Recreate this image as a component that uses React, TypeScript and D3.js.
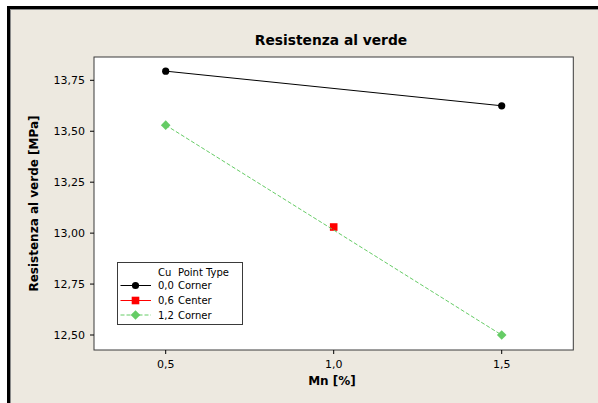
import React from "react";
import * as d3 from "d3";

// Main-effects style interaction plot: green strength vs Mn, by Cu level
const xTicks = [0.5, 1.0, 1.5];
const yTicks = [12.5, 12.75, 13.0, 13.25, 13.5, 13.75];

const cu00Mn = [0.5, 1.5];
const cu00Values = [13.795, 13.625];
const cu06Mn = [1.0];
const cu06Values = [13.03];
const cu12Mn = [0.5, 1.5];
const cu12Values = [13.53, 12.5];

const legendCu = ["0,0", "0,6", "1,2"];
const legendType = ["Corner", "Center", "Corner"];

const W = 598;
const H = 403;
const plot = { left: 94, top: 57, right: 573.3, bottom: 350 };
const FONT = "'DejaVu Sans', Verdana, sans-serif";
const BG = "#EDE9E0";

const fmt = (v: number, d: number) => v.toFixed(d).replace(".", ",");

type Series = {
  xs: number[];
  ys: number[];
  color: string;
  marker: "circle" | "square" | "diamond";
  dash?: string;
  width: number;
};

const series: Series[] = [
  { xs: cu00Mn, ys: cu00Values, color: "#000000", marker: "circle", width: 1 },
  { xs: cu06Mn, ys: cu06Values, color: "#FF0000", marker: "square", width: 1 },
  { xs: cu12Mn, ys: cu12Values, color: "#66CC66", marker: "diamond", dash: "4,2", width: 1 },
];

function Marker({ kind, cx, cy, color }: { kind: Series["marker"]; cx: number; cy: number; color: string }) {
  if (kind === "circle") return <circle cx={cx} cy={cy} r={3.6} fill={color} />;
  if (kind === "square") return <rect x={cx - 3.8} y={cy - 3.8} width={7.6} height={7.6} fill={color} />;
  const s = 4.8;
  return <path d={`M${cx},${cy - s}L${cx + s},${cy}L${cx},${cy + s}L${cx - s},${cy}Z`} fill={color} />;
}

export default function App() {
  const x = d3.scaleLinear().domain([0.2866, 1.7131]).range([plot.left, plot.right]);
  const y = d3.scaleLinear().domain([12.4264, 13.8644]).range([plot.bottom, plot.top]);
  const line = d3
    .line<[number, number]>()
    .x((d) => x(d[0]))
    .y((d) => y(d[1]));

  const legend = { x: 117, y: 262, w: 125, h: 62 };
  const rowY = [285.5, 300.5, 315];

  return (
    <svg
      width={W}
      height={H}
      style={{ position: "absolute", left: 0, top: 0, display: "block" }}
      fontFamily={FONT}
    >
      {/* window frame */}
      <rect x={0} y={0} width={W} height={H} fill="#ffffff" />
      <rect x={7} y={6} width={W} height={H} fill="#000000" />
      <rect x={10} y={9} width={W} height={H} fill="#8a8a8a" />
      <rect x={11} y={10} width={W} height={H} fill={BG} />

      {/* data region */}
      <rect
        x={plot.left}
        y={plot.top}
        width={plot.right - plot.left}
        height={plot.bottom - plot.top}
        fill="#ffffff"
        stroke="#3a3a3a"
        strokeWidth={1}
      />

      <text x={331} y={45} textAnchor="middle" fontSize={13.8} fontWeight="bold" fill="#000">
        Resistenza al verde
      </text>

      {/* y axis */}
      {yTicks.map((t) => (
        <g key={t}>
          <line x1={plot.left - 4} x2={plot.left} y1={y(t)} y2={y(t)} stroke="#000" />
          <text x={85} y={y(t) + 4} textAnchor="end" fontSize={11} fill="#000">
            {fmt(t, 2)}
          </text>
        </g>
      ))}
      <text
        transform={`translate(38,${(plot.top + plot.bottom) / 2}) rotate(-90)`}
        textAnchor="middle"
        fontSize={12}
        fontWeight="bold"
        fill="#000"
      >
        Resistenza al verde [MPa]
      </text>

      {/* x axis */}
      {xTicks.map((t) => (
        <g key={t}>
          <line x1={x(t)} x2={x(t)} y1={plot.bottom} y2={plot.bottom + 4} stroke="#000" />
          <text x={x(t)} y={368} textAnchor="middle" fontSize={11} fill="#000">
            {fmt(t, 1)}
          </text>
        </g>
      ))}
      <text x={332} y={385} textAnchor="middle" fontSize={12} fontWeight="bold" fill="#000">
        Mn [%]
      </text>

      {/* series */}
      {series.map((s, i) => {
        const pts = s.xs.map((v, j) => [v, s.ys[j]] as [number, number]);
        return (
          <g key={i}>
            {pts.length > 1 && (
              <path
                d={line(pts) || ""}
                fill="none"
                stroke={s.color}
                strokeWidth={s.width}
                strokeDasharray={s.dash}
              />
            )}
            {pts.map((p, j) => (
              <Marker key={j} kind={s.marker} cx={x(p[0])} cy={y(p[1])} color={s.color} />
            ))}
          </g>
        );
      })}

      {/* legend */}
      <rect
        x={legend.x + 0.5}
        y={legend.y + 0.5}
        width={legend.w}
        height={legend.h}
        fill="#ffffff"
        stroke="#3a3a3a"
      />
      <text x={158} y={276} fontSize={10} fill="#000">
        Cu
      </text>
      <text x={178} y={276} fontSize={10} fill="#000">
        Point Type
      </text>
      {series.map((s, i) => (
        <g key={i}>
          <line
            x1={120.5}
            x2={151}
            y1={rowY[i]}
            y2={rowY[i]}
            stroke={s.color}
            strokeDasharray={s.dash}
          />
          <Marker kind={s.marker} cx={135.5} cy={rowY[i]} color={s.color} />
          <text x={158} y={rowY[i] + 3.5} fontSize={10} fill="#000">
            {legendCu[i]}
          </text>
          <text x={178} y={rowY[i] + 3.5} fontSize={10} fill="#000">
            {legendType[i]}
          </text>
        </g>
      ))}
    </svg>
  );
}
